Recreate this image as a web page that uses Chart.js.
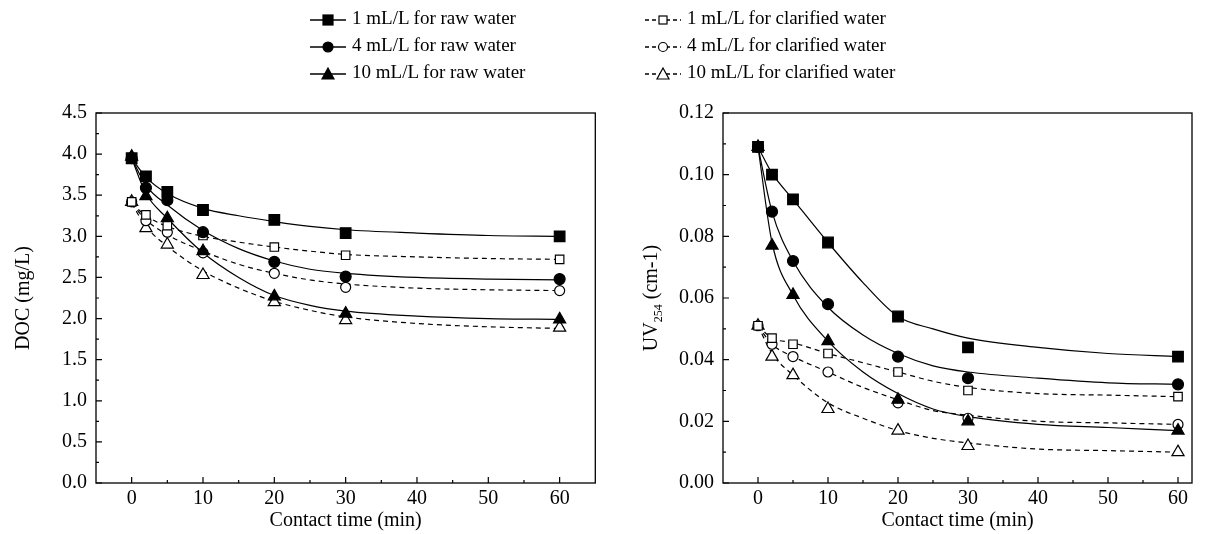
<!DOCTYPE html>
<html>
<head>
<meta charset="utf-8">
<script src="https://cdn.jsdelivr.net/npm/chart.js@4.4.0/dist/chart.umd.min.js"></script>
<style>
  body { margin: 0; background: #fff; width: 1208px; height: 534px; position: relative; overflow: hidden; font-family: "Liberation Serif", serif; }
  #left { position: absolute; left: 0; top: 0; }
  #right { position: absolute; left: 604px; top: 0; }
  .leg { position: absolute; font-size: 19px; color: #000; white-space: nowrap; line-height: 22px; }
  .leg svg { vertical-align: middle; margin-right: 6px; }
</style>
</head>
<body>
<canvas id="left" width="604" height="534"></canvas>
<canvas id="right" width="604" height="534"></canvas>
<div id="legend"></div>
<script>
// contact time of the samples
const xTime = [0, 2, 5, 10, 20, 30, 60];
const fitTime = [0, 2, 5, 10, 15, 20, 25, 30, 40, 50, 60];

const seriesNames = ['1 mL/L for raw water', '4 mL/L for raw water', '10 mL/L for raw water',
  '1 mL/L for clarified water', '4 mL/L for clarified water', '10 mL/L for clarified water'];

// DOC (mg/L) measured
const docRaw1 = [3.95, 3.73, 3.54, 3.32, 3.20, 3.04, 3.00];
const docRaw4 = [3.95, 3.59, 3.44, 3.05, 2.69, 2.51, 2.48];
const docRaw10 = [3.97, 3.49, 3.22, 2.82, 2.27, 2.06, 1.99];
const docClar1 = [3.42, 3.26, 3.13, 3.01, 2.87, 2.77, 2.72];
const docClar4 = [3.42, 3.19, 3.05, 2.80, 2.55, 2.38, 2.34];
const docClar10 = [3.42, 3.10, 2.90, 2.53, 2.20, 1.98, 1.89];
// DOC fitted curves
const docFitRaw1 = [3.95, 3.72, 3.52, 3.34, 3.25, 3.18, 3.12, 3.08, 3.04, 3.01, 3.00];
const docFitRaw4 = [3.95, 3.62, 3.38, 3.07, 2.85, 2.70, 2.60, 2.55, 2.50, 2.48, 2.47];
const docFitRaw10 = [3.95, 3.52, 3.22, 2.80, 2.50, 2.28, 2.16, 2.09, 2.03, 2.00, 1.99];
const docFitClar1 = [3.40, 3.25, 3.12, 3.00, 2.93, 2.87, 2.82, 2.78, 2.75, 2.73, 2.72];
const docFitClar4 = [3.40, 3.20, 3.02, 2.82, 2.66, 2.55, 2.47, 2.42, 2.37, 2.35, 2.34];
const docFitClar10 = [3.40, 3.12, 2.88, 2.58, 2.37, 2.21, 2.10, 2.02, 1.94, 1.90, 1.88];

// UV254 (cm-1) measured
const uvRaw1 = [0.109, 0.100, 0.092, 0.078, 0.054, 0.044, 0.041];
const uvRaw4 = [0.109, 0.088, 0.072, 0.058, 0.041, 0.034, 0.032];
const uvRaw10 = [0.109, 0.077, 0.061, 0.046, 0.027, 0.020, 0.017];
const uvClar1 = [0.051, 0.047, 0.045, 0.042, 0.036, 0.030, 0.028];
const uvClar4 = [0.051, 0.045, 0.041, 0.036, 0.026, 0.021, 0.019];
const uvClar10 = [0.051, 0.041, 0.035, 0.024, 0.017, 0.012, 0.010];
// UV fitted curves
const uvFitRaw1 = [0.109, 0.1005, 0.092, 0.078, 0.065, 0.054, 0.050, 0.047, 0.044, 0.042, 0.041];
const uvFitRaw4 = [0.109, 0.088, 0.072, 0.057, 0.048, 0.042, 0.038, 0.036, 0.034, 0.0325, 0.032];
const uvFitRaw10 = [0.109, 0.078, 0.061, 0.046, 0.036, 0.029, 0.024, 0.0215, 0.019, 0.018, 0.017];
const uvFitClar1 = [0.051, 0.047, 0.0455, 0.042, 0.039, 0.036, 0.033, 0.031, 0.029, 0.0285, 0.028];
const uvFitClar4 = [0.051, 0.045, 0.041, 0.036, 0.031, 0.027, 0.0235, 0.022, 0.020, 0.0195, 0.019];
const uvFitClar10 = [0.051, 0.042, 0.035, 0.026, 0.021, 0.017, 0.0145, 0.013, 0.011, 0.0105, 0.010];

// axis ticks
const xTicks = [0, 10, 20, 30, 40, 50, 60];
const docTicks = [0, 0.5, 1.0, 1.5, 2.0, 2.5, 3.0, 3.5, 4.0, 4.5];
const uvTicks = [0, 0.02, 0.04, 0.06, 0.08, 0.10, 0.12];

const FONT = "'Liberation Serif', 'Times New Roman', serif";
const FSIZE = 20;

// marker look per series
const marks = [
  { style: 'rect', r: 7.5, fill: '#000', dash: [] },
  { style: 'circle', r: 5.5, fill: '#000', dash: [] },
  { style: 'triangle', r: 7, fill: '#000', dash: [] },
  { style: 'rect', r: 6, fill: '#fff', dash: [5, 4] },
  { style: 'circle', r: 5, fill: '#fff', dash: [5, 4] },
  { style: 'triangle', r: 7, fill: '#fff', dash: [5, 4] }
];

function toPts(xs, ys) {
  return xs.map((x, i) => ({ x: x, y: ys[i] }));
}

function buildDatasets(measured, fitted) {
  let sets = [];
  // curves first so markers sit on top
  for (let i = 0; i < fitted.length; i++) {
    sets.push({
      label: seriesNames[i] + ' fit',
      data: toPts(fitTime, fitted[i]),
      showLine: true,
      borderColor: '#000',
      borderWidth: 1.2,
      borderDash: marks[i].dash,
      pointRadius: 0,
      cubicInterpolationMode: 'monotone',
      order: 2
    });
  }
  for (let i = 0; i < measured.length; i++) {
    sets.push({
      label: seriesNames[i],
      data: toPts(xTime, measured[i]),
      showLine: false,
      pointStyle: marks[i].style,
      pointRadius: marks[i].r,
      pointBackgroundColor: marks[i].fill,
      pointBorderColor: '#000',
      pointBorderWidth: 1.2,
      order: 1
    });
  }
  return sets;
}

// frame, inward ticks and y title drawn by hand
const framePlugin = {
  id: 'frame',
  afterDraw(chart) {
    const c = chart.ctx;
    const a = chart.chartArea;
    const xs = chart.scales.x;
    const ys = chart.scales.y;
    const cfg = chart.options.plugins.frame;
    c.save();
    c.strokeStyle = '#000';
    c.lineWidth = 1.3;
    c.strokeRect(a.left, a.top, a.right - a.left, a.bottom - a.top);
    c.lineWidth = 1.2;
    c.beginPath();
    for (let i = 0; i < xTicks.length; i++) {
      let px = xs.getPixelForValue(xTicks[i]);
      c.moveTo(px, a.bottom); c.lineTo(px, a.bottom - 6);
      let mx = xs.getPixelForValue(xTicks[i] + 5);
      if (mx < a.right - 2) { c.moveTo(mx, a.bottom); c.lineTo(mx, a.bottom - 3); }
    }
    const yt = cfg.ticks;
    for (let i = 0; i < yt.length; i++) {
      let py = ys.getPixelForValue(yt[i]);
      c.moveTo(a.left, py); c.lineTo(a.left + 6, py);
      if (i < yt.length - 1) {
        let my = ys.getPixelForValue((yt[i] + yt[i + 1]) / 2);
        c.moveTo(a.left, my); c.lineTo(a.left + 3, my);
      }
    }
    c.stroke();
    // y title, rotated
    c.translate(cfg.titleX, (a.top + a.bottom) / 2);
    c.rotate(-Math.PI / 2);
    c.fillStyle = '#000';
    c.textBaseline = 'alphabetic';
    let parts = cfg.title;
    let widths = parts.map(p => { c.font = p.size + 'px ' + FONT; return c.measureText(p.text).width; });
    let total = widths.reduce((s, w) => s + w, 0);
    let x0 = -total / 2;
    for (let i = 0; i < parts.length; i++) {
      c.font = parts[i].size + 'px ' + FONT;
      c.fillText(parts[i].text, x0, 7 + (parts[i].sub ? 5 : 0));
      x0 += widths[i];
    }
    c.restore();
  }
};

function makeChart(id, measured, fitted, yTicks, yMax, xMax, decimals, yWidth, padRight, title, titleX) {
  return new Chart(document.getElementById(id), {
    type: 'scatter',
    data: { datasets: buildDatasets(measured, fitted) },
    options: {
      responsive: false,
      animation: false,
      layout: { padding: { top: 113, right: padRight, bottom: 0, left: 0 } },
      plugins: {
        legend: { display: false },
        tooltip: { enabled: false },
        frame: { ticks: yTicks, title: title, titleX: titleX }
      },
      scales: {
        x: {
          type: 'linear',
          min: -5,
          max: xMax,
          afterBuildTicks: axis => { axis.ticks = xTicks.map(v => ({ value: v })); },
          afterFit: axis => { axis.height = 51; },
          grid: { display: false, drawTicks: false },
          border: { display: false },
          ticks: { color: '#000', font: { family: FONT, size: FSIZE }, padding: 4, maxRotation: 0 },
          title: { display: true, text: 'Contact time (min)', color: '#000', font: { family: FONT, size: FSIZE }, padding: { top: 0, bottom: 1 } }
        },
        y: {
          type: 'linear',
          min: 0,
          max: yMax,
          afterBuildTicks: axis => { axis.ticks = yTicks.map(v => ({ value: v })); },
          afterFit: axis => { axis.width = yWidth; },
          grid: { display: false, drawTicks: false },
          border: { display: false },
          ticks: { color: '#000', font: { family: FONT, size: FSIZE }, padding: 9, callback: v => v.toFixed(decimals) }
        }
      }
    },
    plugins: [framePlugin]
  });
}

makeChart('left',
  [docRaw1, docRaw4, docRaw10, docClar1, docClar4, docClar10],
  [docFitRaw1, docFitRaw4, docFitRaw10, docFitClar1, docFitClar4, docFitClar10],
  docTicks, 4.5, 65, 1, 96, 7,
  [{ text: 'DOC (mg/L)', size: FSIZE }], 22);

makeChart('right',
  [uvRaw1, uvRaw4, uvRaw10, uvClar1, uvClar4, uvClar10],
  [uvFitRaw1, uvFitRaw4, uvFitRaw10, uvFitClar1, uvFitClar4, uvFitClar10],
  uvTicks, 0.12, 62, 2, 119, 16,
  [{ text: 'UV', size: FSIZE }, { text: '254', size: 12, sub: true }, { text: ' (cm-1)', size: FSIZE }], 46);

// legend: two columns of three rows
function symbolSvg(m) {
  let dash = m.dash.length ? ' stroke-dasharray="4,3"' : '';
  let shape = '';
  if (m.style === 'rect') {
    let s = m.fill === '#000' ? 10 : 8;
    shape = '<rect x="' + (18 - s / 2) + '" y="' + (11 - s / 2) + '" width="' + s + '" height="' + s + '" fill="' + m.fill + '" stroke="#000" stroke-width="1.2"/>';
  } else if (m.style === 'circle') {
    shape = '<circle cx="18" cy="11" r="' + (m.fill === '#000' ? 5 : 4.5) + '" fill="' + m.fill + '" stroke="#000" stroke-width="1.2"/>';
  } else {
    shape = '<polygon points="18,5 24,16 12,16" fill="' + m.fill + '" stroke="#000" stroke-width="1.2"/>';
  }
  return '<svg width="36" height="22"><line x1="0" y1="11" x2="36" y2="11" stroke="#000" stroke-width="1.3"' + dash + '/>' + shape + '</svg>';
}

const legendBox = document.getElementById('legend');
const legendCols = [310, 645];
const legendRows = [7, 34, 61];
for (let i = 0; i < seriesNames.length; i++) {
  const div = document.createElement('div');
  div.className = 'leg';
  div.style.left = legendCols[Math.floor(i / 3)] + 'px';
  div.style.top = legendRows[i % 3] + 'px';
  div.innerHTML = symbolSvg(marks[i]) + '<span>' + seriesNames[i] + '</span>';
  legendBox.appendChild(div);
}
</script>
</body>
</html>
